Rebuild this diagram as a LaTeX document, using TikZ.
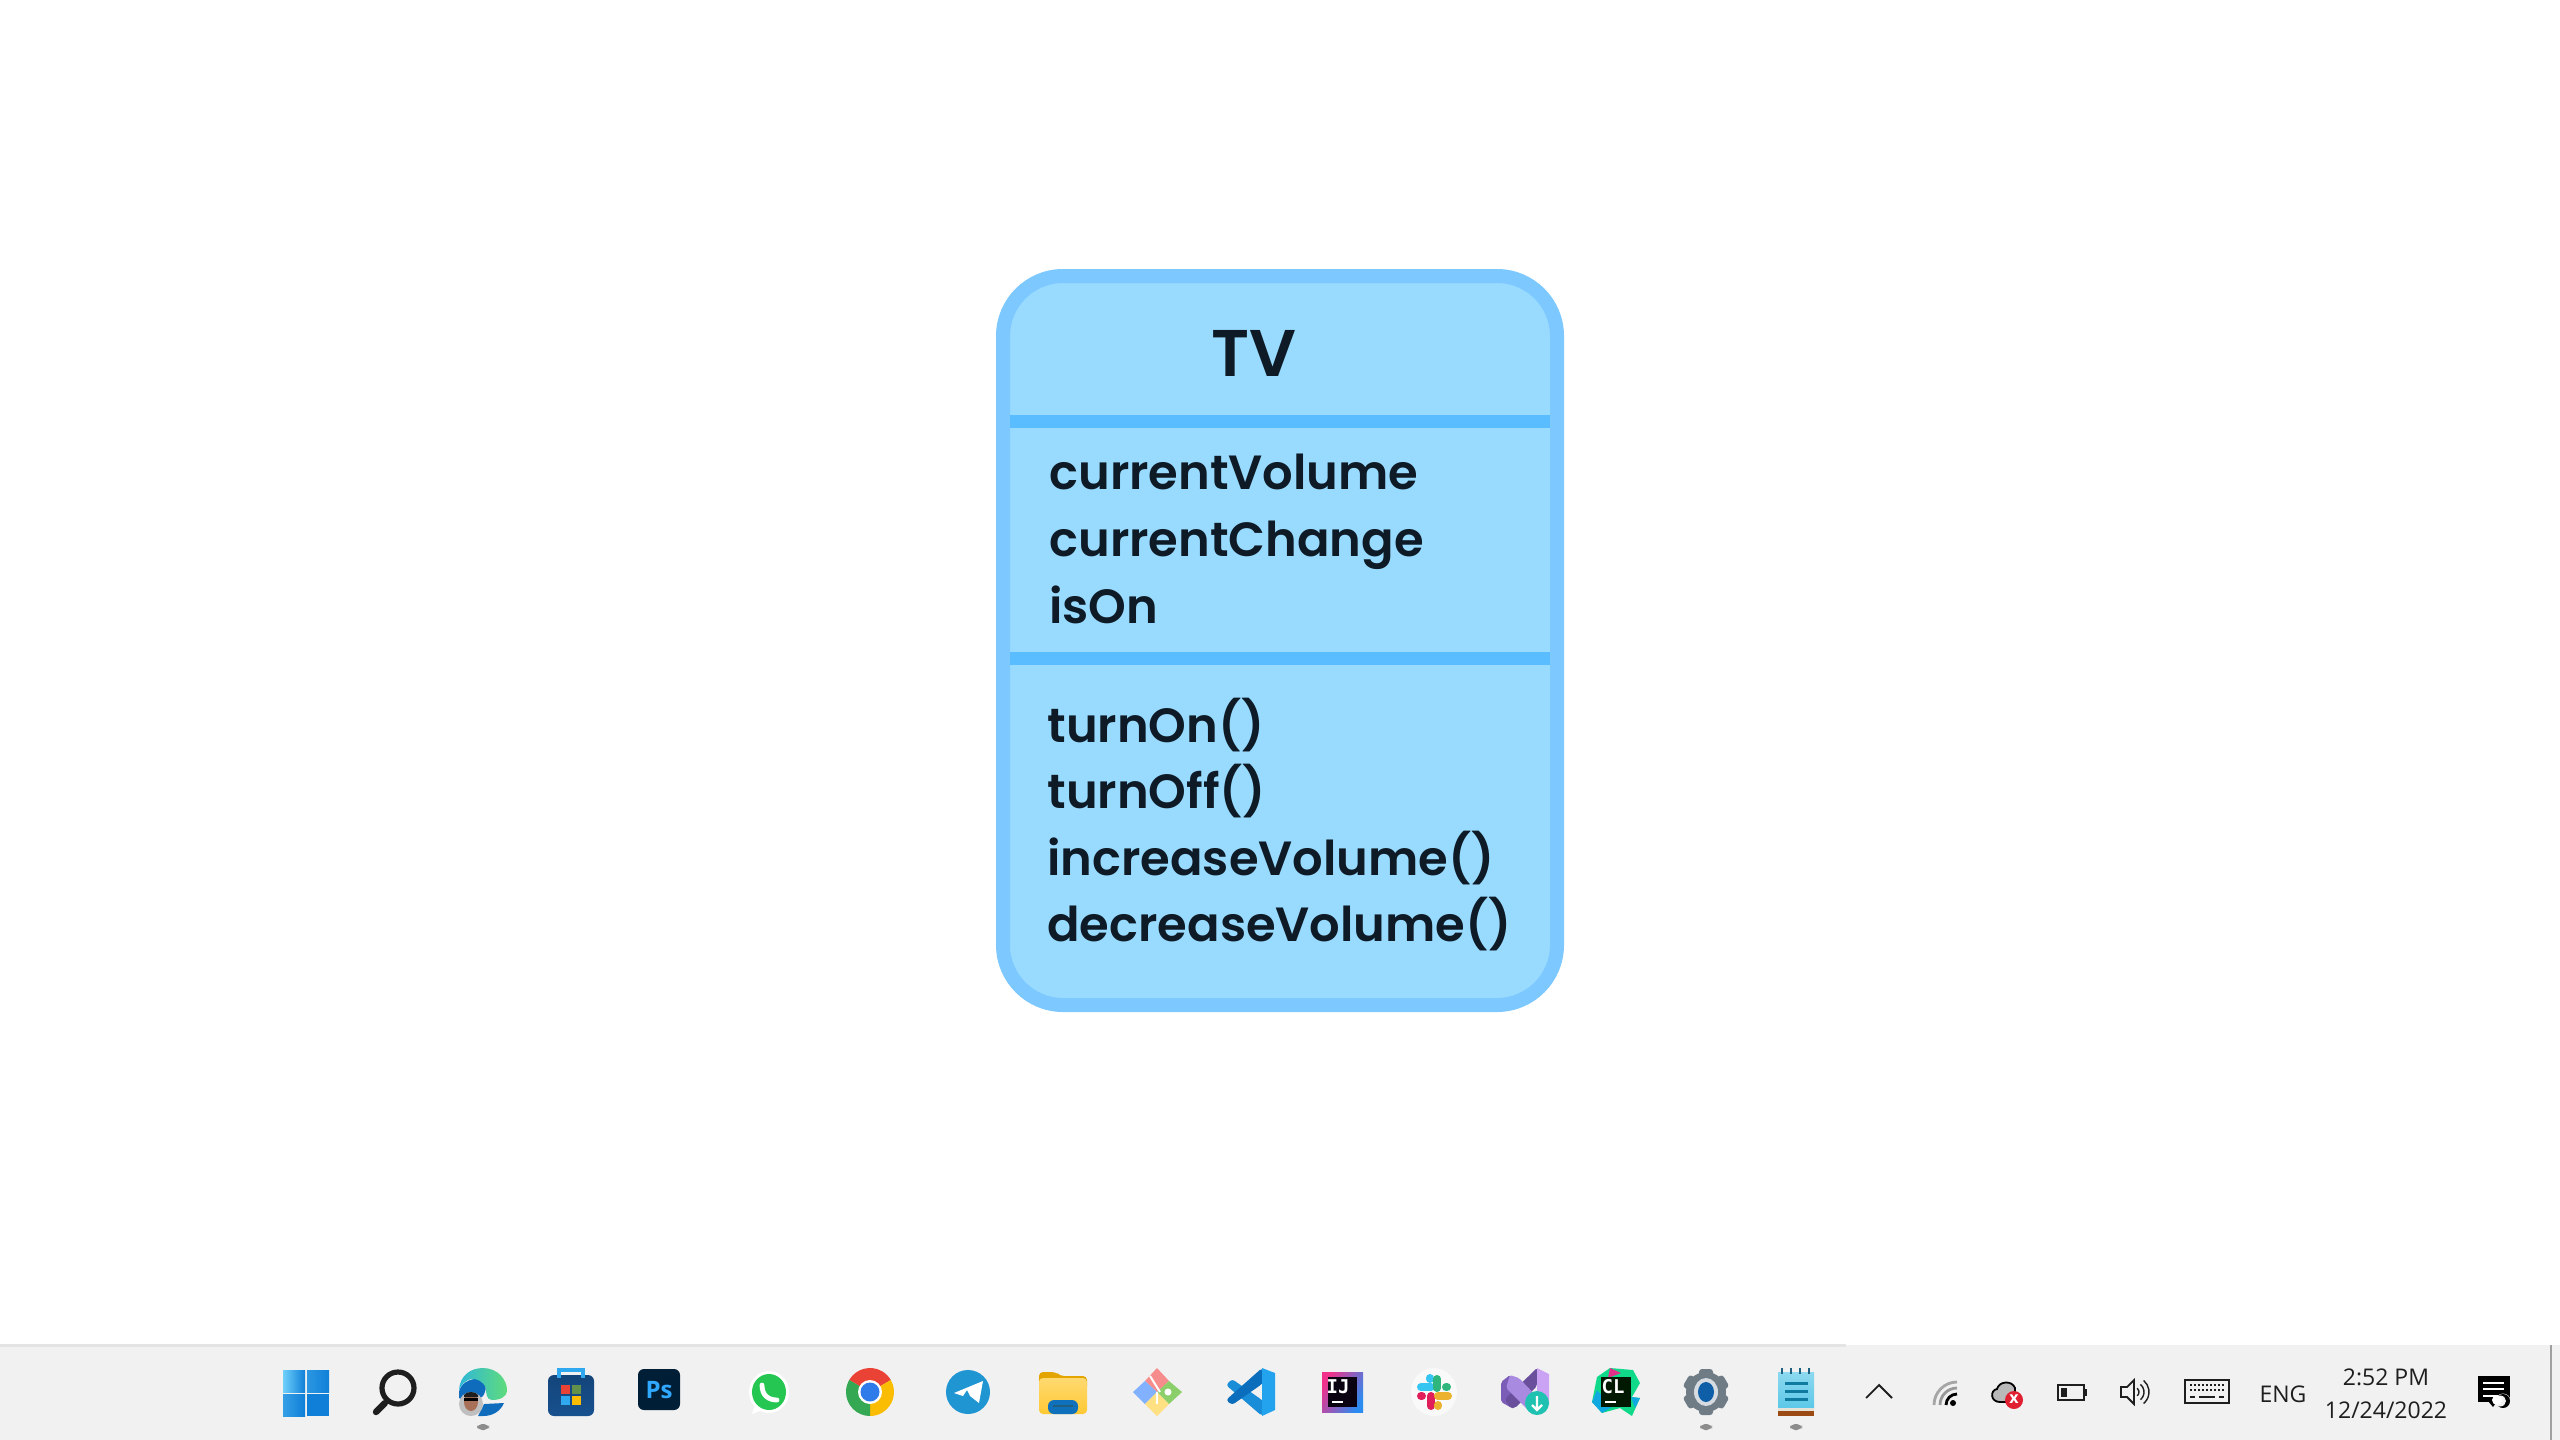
\documentclass[tikz,border=0pt]{standalone}
\usepackage{fontspec}
\setmainfont{Open Sans}
\newfontfamily\popfont{Poppins}[UprightFont=* SemiBold,BoldFont=* Bold]
\newfontfamily\monofam{DejaVu Sans Mono}[BoldFont=* Bold]
\usetikzlibrary{shapes.geometric}
\definecolor{cardfill}{HTML}{99DBFF}
\definecolor{cardedge}{HTML}{7CC8FF}
\definecolor{cardrule}{HTML}{5ABDFF}
\definecolor{cardink}{HTML}{0E1B26}
\definecolor{barbg}{HTML}{F1F1F1}
\definecolor{barline}{HTML}{E4E4E4}
\definecolor{dotgray}{HTML}{8C8C8C}
\definecolor{trayink}{HTML}{1E1E1E}
\definecolor{winlight}{HTML}{6FD0FA}
\definecolor{windark}{HTML}{0F7FD8}
\definecolor{edgeblue}{HTML}{0F6CBD}
\definecolor{edgeteal}{HTML}{2FB8D8}
\definecolor{edgegreen}{HTML}{5FDB7B}
\definecolor{storeblue}{HTML}{17518F}
\definecolor{storelight}{HTML}{2FA8F0}
\definecolor{psbg}{HTML}{001E36}
\definecolor{psfg}{HTML}{31A8FF}
\definecolor{wagreen}{HTML}{25C752}
\definecolor{chred}{HTML}{EA4335}
\definecolor{chyellow}{HTML}{FBBC04}
\definecolor{chgreen}{HTML}{34A853}
\definecolor{chblue}{HTML}{2F7BEA}
\definecolor{tgblue}{HTML}{1F96D2}
\definecolor{foldy}{HTML}{FFC933}
\definecolor{foldd}{HTML}{E3A400}
\definecolor{foldb}{HTML}{0F71BC}
\definecolor{gitr}{HTML}{F78C8C}
\definecolor{gitb}{HTML}{82B1FF}
\definecolor{gitg}{HTML}{8BCF6A}
\definecolor{gity}{HTML}{FFE082}
\definecolor{vsa}{HTML}{23A3EE}
\definecolor{vsb}{HTML}{0A6EBD}
\definecolor{vsc}{HTML}{1A8DD8}
\definecolor{ijblack}{HTML}{0A0210}
\definecolor{ijpink}{HTML}{F0308A}
\definecolor{ijblue}{HTML}{2C8BF0}
\definecolor{slb}{HTML}{36C5F0}
\definecolor{slg}{HTML}{2EB67D}
\definecolor{slr}{HTML}{E01E5A}
\definecolor{sly}{HTML}{ECB22E}
\definecolor{vpa}{HTML}{7B5DB8}
\definecolor{vpb}{HTML}{A88BE0}
\definecolor{vpc}{HTML}{CBA3F5}
\definecolor{vpt}{HTML}{1FC2B0}
\definecolor{clg}{HTML}{10D98A}
\definecolor{clb}{HTML}{0FA8E0}
\definecolor{clp}{HTML}{E0308A}
\definecolor{gearg}{HTML}{6F7B85}
\definecolor{gearl}{HTML}{D5DBE0}
\definecolor{gearb}{HTML}{0F5FA8}
\definecolor{noteb}{HTML}{5CC8E8}
\definecolor{noted}{HTML}{0F7BA0}
\definecolor{notebr}{HTML}{9A4A12}
\definecolor{notet}{HTML}{1F5F80}
\definecolor{notew}{HTML}{E6E2D8}
\definecolor{errred}{HTML}{E02030}
\definecolor{faceb}{HTML}{A87058}
\tikzset{
 title/.style={font=\popfont\fontsize{33}{33}\selectfont,text=cardink,anchor=base,inner sep=0pt},
 member/.style={font=\popfont\fontsize{24}{24}\selectfont,text=cardink,anchor=base west,inner sep=0pt},
 tray/.style={font=\fontsize{11.5}{12}\selectfont,text=trayink,anchor=base,inner sep=0pt},
 trayline/.style={draw=trayink,line width=.9pt,fill=none},
 tick/.style={line width=#1,line cap=round},
}
\begin{document}
\begin{tikzpicture}[x=.5pt,y=-.5pt]
\useasboundingbox (0,0) rectangle (2560,1440);
\fill[white] (0,0) rectangle (2560,1440);
% card
\draw[fill=cardfill,draw=cardedge,line width=7pt,rounded corners=30pt] (1003,276) rectangle (1557,1005);
\fill[cardrule] (1010,415) rectangle (1550,428);
\fill[cardrule] (1010,652) rectangle (1550,665);
\node[title] (tv) at (1254,376) {TV};
\node[member] (a1) at (1049,489) {currentVolume};
\node[member] (a2) at (1049,556) {currentChange};
\node[member] (a3) at (1049,623) {isOn};
\node[member] (m1) at (1047,742) {turnOn()};
\node[member] (m2) at (1047,808) {turnOff()};
\node[member] (m3) at (1047,875) {increaseVolume()};
\node[member] (m4) at (1047,941) {decreaseVolume()};
% taskbar
\fill[barbg] (0,1345) rectangle (2560,1440);
\fill[barline] (0,1344) rectangle (1846,1347);
\fill[barline!70!black] (2550,1345) rectangle (2552,1440);
% start button
\shade[left color=winlight,right color=windark] (283,1370) rectangle (305,1392);
\shade[left color=windark!70!winlight,right color=windark] (307,1370) rectangle (329,1392);
\shade[left color=windark!60!winlight,right color=windark] (283,1394) rectangle (305,1416);
\fill[windark] (307,1394) rectangle (329,1416);
% search
\draw[trayink,line width=2.6pt] (398,1388) ellipse (16 and 16);
\draw[trayink,tick=3.2pt] (385,1403) -- (376,1412);
% edge
\fill[edgeblue] (459,1392) .. controls (460,1384) and (470,1378) .. (478,1379) .. controls (486,1381) and (488,1388) .. (483,1396) -- (473,1404) -- (459,1398) -- cycle;
\shade[left color=edgeteal,right color=edgegreen] (459,1390) .. controls (460,1375) and (471,1368) .. (483,1368) .. controls (498,1368) and (507,1380) .. (507,1390) .. controls (507,1397) and (500,1400) .. (492,1400) .. controls (486,1400) and (486,1392) .. (486,1388) .. controls (483,1381) and (476,1378) .. (471,1379) .. controls (466,1380) and (461,1385) .. (459,1390) -- cycle;
\fill[edgeblue] (484,1404) -- (504,1403) .. controls (500,1412) and (492,1416) .. (483,1416) -- (478,1416) -- cycle;
\fill[gray!50] (471,1404) ellipse (12 and 12);
\fill[faceb] (471,1402) ellipse (7 and 9);
\fill[trayink] (464,1395) .. controls (466,1391) and (476,1391) .. (478,1395) -- (478,1397) -- (464,1397) -- cycle;
\fill[black] (464,1398) rectangle (478,1401);
\fill[dotgray,rounded corners=2.5pt] (477,1424) rectangle (489,1430);
% store
\shade[top color=storeblue!85!black,bottom color=storeblue,rounded corners=3pt] (548,1375) -- (594,1375) -- (594,1416) -- (548,1416) -- cycle;
\draw[storelight,line width=1.8pt] (559,1378) -- (559,1370) -- (583,1370) -- (583,1378);
\fill[chred] (561,1385) rectangle (570,1394);
\fill[gitg!70!black] (572,1385) rectangle (581,1394);
\fill[storelight] (561,1396) rectangle (570,1405);
\fill[chyellow] (572,1396) rectangle (581,1405);
% photoshop
\fill[psbg,rounded corners=3pt] (638,1369) rectangle (680,1410);
\node[font=\bfseries\fontsize{12}{12}\selectfont,text=psfg,inner sep=0pt] (ps) at (659,1390) {Ps};
% whatsapp
\fill[white] (769,1392) ellipse (20 and 21);
\fill[white] (752,1414) -- (757,1398) -- (768,1408) -- cycle;
\fill[wagreen] (769,1392) ellipse (17 and 18);
\draw[white,tick=2.4pt] (762,1385) .. controls (762,1395) and (768,1400) .. (777,1400);
% chrome
\begin{scope}[shift={(870,1392)},y=.5pt]
\fill[chred] (0,0) -- (150:24) arc (150:30:24) -- cycle;
\fill[chyellow] (0,0) -- (30:24) arc (30:-90:24) -- cycle;
\fill[chgreen] (0,0) -- (-90:24) arc (-90:-210:24) -- cycle;
\fill[white] (0,0) circle (12);
\fill[chblue] (0,0) circle (9.5);
\end{scope}
% telegram
\fill[tgblue] (968,1392) ellipse (22 and 22);
\fill[white] (954,1393) -- (983,1381) -- (979,1403) -- (970,1396) -- (967,1390) -- (963,1396) -- cycle;
% file explorer
\fill[foldd,rounded corners=2pt] (1039,1372) -- (1056,1372) -- (1060,1376) -- (1087,1376) -- (1087,1390) -- (1039,1390) -- cycle;
\shade[top color=foldy!70!white,bottom color=foldy,rounded corners=2pt] (1039,1378) -- (1087,1378) -- (1087,1414) -- (1039,1414) -- cycle;
\fill[foldb,rounded corners=3pt] (1048,1414) -- (1048,1400) -- (1078,1400) -- (1078,1414) -- cycle;
\fill[notet] (1053,1405) rectangle (1073,1407);
% git client
\fill[gitr] (1157,1368) -- (1169,1381) -- (1157,1392) -- (1145,1381) -- cycle;
\fill[gitb] (1145,1381) -- (1157,1392) -- (1145,1404) -- (1133,1392) -- cycle;
\fill[gitg] (1169,1381) -- (1182,1392) -- (1169,1404) -- (1157,1392) -- cycle;
\fill[gity] (1157,1392) -- (1169,1404) -- (1157,1416) -- (1145,1404) -- cycle;
\draw[white,line width=1pt] (1150,1376) -- (1160,1392);
\draw[white,line width=1pt] (1157,1392) -- (1157,1404);
\fill[white] (1168,1392) ellipse (3.5 and 3.5);
% vs code
\fill[vsc,rounded corners=1.5pt] (1232,1379) -- (1226,1385) -- (1262,1416) -- (1266,1405) -- (1262,1400) -- cycle;
\fill[vsb,rounded corners=1.5pt] (1262,1368) -- (1226,1400) -- (1232,1405) -- (1262,1384) -- (1266,1378) -- cycle;
\fill[vsa] (1262,1368) -- (1275,1373) -- (1275,1410) -- (1262,1416) -- cycle;
% intellij
\shade[left color=ijpink,right color=ijblue,shading angle=60] (1322,1372) rectangle (1363,1412);
\fill[ijblack] (1328,1377) rectangle (1357,1407);
\node[font=\monofam\bfseries\fontsize{9.5}{10}\selectfont,text=white,inner sep=0pt] (ij) at (1338,1387) {IJ};
\fill[white] (1332,1401) rectangle (1343,1403);
% slack
\fill[white!95!gray] (1434,1392) ellipse (23 and 24);
\draw[slb,tick=4pt] (1421,1387) -- (1431,1387);
\draw[slb,tick=4pt] (1430,1378) -- (1430,1379);
\draw[slg,tick=4pt] (1437,1379) -- (1437,1388);
\draw[slg,tick=4pt] (1446,1387) -- (1447,1387);
\draw[slr,tick=4pt] (1431,1396) -- (1431,1406);
\draw[slr,tick=4pt] (1421,1396) -- (1422,1396);
\draw[sly,tick=4pt] (1438,1396) -- (1448,1396);
\draw[sly,tick=4pt] (1438,1405) -- (1438,1406);
% vs installer
\fill[vpa,rounded corners=1pt] (1501,1382) -- (1510,1375) -- (1512,1408) -- (1501,1402) -- cycle;
\fill[vpa!85!black,rounded corners=1pt] (1537,1368) -- (1537,1386) -- (1515,1408) -- (1510,1408) -- (1505,1399) -- cycle;
\fill[vpb,rounded corners=1pt] (1510,1375) -- (1519,1378) -- (1540,1400) -- (1530,1412) -- (1506,1388) -- cycle;
\fill[vpc] (1537,1368) -- (1549,1374) -- (1549,1405) -- (1537,1405) -- cycle;
\fill[vpt] (1537,1403) ellipse (12 and 12);
\draw[white,line width=1.2pt] (1537,1396) -- (1537,1410) (1532,1405) -- (1537,1410) -- (1542,1405);
% clion
\fill[clg] (1610,1368) -- (1633,1370) -- (1640,1383) -- (1632,1397) -- (1640,1398) -- (1632,1416) -- (1620,1408) -- (1602,1413) -- (1592,1402) -- (1597,1377) -- cycle;
\fill[clp] (1610,1368) -- (1621,1373) -- (1608,1378) -- cycle;
\fill[clb] (1592,1402) -- (1602,1413) -- (1612,1407) -- (1597,1390) -- cycle;
\fill[clb] (1631,1397) -- (1640,1398) -- (1635,1408) -- cycle;
\fill[black!90!green] (1601,1377) rectangle (1631,1407);
\node[font=\monofam\bfseries\fontsize{9.5}{10}\selectfont,text=white,inner sep=0pt] (cl) at (1613,1387) {CL};
\fill[white] (1605,1401) rectangle (1616,1403);
% settings
\foreach \a in {0,60,120} {
  \fill[gearg,rotate around={\a:(1706,1392)},rounded corners=1.5pt] (1699,1369) rectangle (1713,1415);
}
\fill[gearg] (1706,1392) ellipse (20 and 20);
\fill[gearl] (1706,1392) ellipse (12 and 14);
\fill[gearb] (1706,1392) ellipse (8 and 10);
\fill[dotgray,rounded corners=2.5pt] (1700,1424) rectangle (1712,1430);
% notepad
\shade[top color=noteb!70!white,bottom color=noteb] (1778,1372) rectangle (1814,1408);
\fill[notew] (1778,1408) rectangle (1814,1411);
\fill[notebr] (1778,1411) rectangle (1814,1416);
\foreach \tx in {1782,1791,1800,1809} { \draw[notet,line width=1pt] (\tx,1368) -- (\tx,1374); }
\foreach \ty in {1382,1390,1398} { \fill[noted] (1785,\ty) rectangle (1808,\ty+3); }
\fill[dotgray,rounded corners=2.5pt] (1790,1424) rectangle (1802,1430);
% tray: chevron
\draw[trayink,line width=.9pt] (1866,1398) -- (1879,1385) -- (1892,1398);
% wifi
\begin{scope}[shift={(1957,1405)},y=.5pt]
\fill[black] (-4,2) circle (3);
\draw[black,line width=1.4pt] (0,11) arc (90:180:11);
\draw[gray!80,line width=1.4pt] (0,17) arc (90:180:17);
\draw[gray!70,line width=1.4pt] (0,23) arc (90:180:23);
\end{scope}
% cloud
\draw[black,line width=.9pt,fill=gray!55] (2000,1402) .. controls (1990,1402) and (1990,1390) .. (1997,1389) .. controls (1999,1381) and (2012,1380) .. (2015,1388) -- (2015,1402) -- cycle;
\fill[errred] (2014,1400) ellipse (9 and 9);
\node[font=\bfseries\fontsize{8}{8}\selectfont,text=white,inner sep=0pt] (err) at (2014,1399) {x};
% battery
\draw[trayink,line width=1pt] (2058,1385) rectangle (2084,1400);
\fill[trayink] (2061,1388) rectangle (2067,1397);
\fill[trayink] (2085,1389) rectangle (2087,1396);
% speaker
\draw[trayline] (2121,1387) -- (2127,1387) -- (2134,1380) -- (2134,1404) -- (2127,1397) -- (2121,1397) -- cycle;
\begin{scope}[shift={(2134,1392)},y=.5pt]
\foreach \r in {5,10,15} { \draw[trayink,line width=.7pt] (-50:\r) arc (-50:50:\r); }
\end{scope}
% keyboard
\draw[trayink,line width=1pt] (2185,1380) rectangle (2229,1403);
\foreach \ky in {1385,1390} { \draw[trayink,line width=1pt,dash pattern=on 1pt off 1pt] (2190,\ky) -- (2224,\ky); }
\draw[trayink,line width=1pt] (2190,1397) -- (2195,1397) (2199,1397) -- (2215,1397) (2219,1397) -- (2224,1397);
% tray text
\node[tray] (eng) at (2283,1402) {ENG};
\node[tray] (clock) at (2386,1385) {2:52 PM};
\node[tray] (date) at (2386,1418) {12/24/2022};
% notification
\fill[black] (2478,1376) rectangle (2510,1402);
\fill[black] (2488,1401) -- (2497,1401) -- (2493,1407) -- cycle;
\fill[white] (2483,1382) rectangle (2504,1384);
\fill[white] (2483,1388) rectangle (2504,1390);
\fill[white] (2483,1395) rectangle (2498,1397);
\fill[barbg] (2503,1401) ellipse (7.5 and 7.5);
\fill[black] (2503,1401) ellipse (7 and 7);
\fill[barbg] (2500,1401) ellipse (6 and 5.5);
\fill[white] (2497,1400) ellipse (5 and 5);
\end{tikzpicture}
\end{document}
